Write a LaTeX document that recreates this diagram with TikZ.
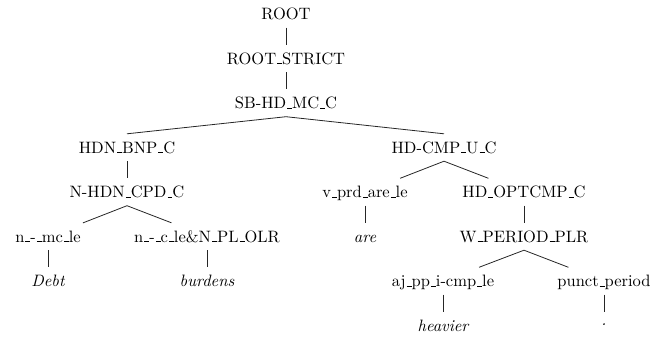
\documentclass[tikz,border=0pt]{standalone}
\usepackage{fontspec}
\setmainfont{lmroman10-regular.otf}[ItalicFont=lmroman10-italic.otf]
\newcommand\us{\leavevmode\kern.06em\vbox{\hrule height .8pt width .3em}}
\begin{document}
\begin{tikzpicture}[x=1pt,y=-1pt,
  tn/.style={font=\fontsize{16.5}{20}\selectfont, text height=11.5pt, text depth=0pt,
             inner xsep=2pt, inner ysep=7.75pt, anchor=center},
  lf/.style={tn, font=\fontsize{16.5}{20}\selectfont\itshape},
  edge/.style={line width=0.8pt, black!85}]
\useasboundingbox (0,0) rectangle (652,340);
\node[tn] (root) at (286,14) {ROOT};
\node[tn] (rs) at (286,58.5) {ROOT\us STRICT};
\node[tn] (sb) at (286,103) {SB-HD\us MC\us C};
\node[tn] (hdn) at (127,147.5) {HDN\us BNP\us C};
\node[tn] (hdc) at (444,147.5) {HD-CMP\us U\us C};
\node[tn] (nhdn) at (127,192) {N-HDN\us CPD\us C};
\node[tn] (vprd) at (365,192) {v\us prd\us are\us le};
\node[tn] (hdo) at (524,192) {HD\us OPTCMP\us C};
\node[tn] (nmc) at (48,236.5) {n\us -\us mc\us le};
\node[tn] (nc) at (207,236.5) {n\us -\us c\us le\&N\us PL\us OLR};
\node[lf] (are) at (365,236.5) {are};
\node[tn] (wp) at (524,236.5) {W\us PERIOD\us PLR};
\node[lf] (debt) at (48,281) {Debt};
\node[lf] (burd) at (207,281) {burdens};
\node[tn] (aj) at (443,281) {aj\us pp\us i-cmp\us le};
\node[tn] (pp) at (604,281) {punct\us period};
\node[lf] (heav) at (443,325.5) {heavier};
\node[lf] (dot) at (604,325.5) {\raisebox{6pt}{.}};
\draw[edge] (root.south) -- (rs);
\draw[edge] (rs.south) -- (sb);
\draw[edge] (sb.south) -- (hdn.north);
\draw[edge] (sb.south) -- (hdc.north);
\draw[edge] (hdn.south) -- (nhdn);
\draw[edge] (nhdn.south) -- (nmc);
\draw[edge] (nhdn.south) -- (nc);
\draw[edge] (nmc.south) -- (debt);
\draw[edge] (nc.south) -- (burd);
\draw[edge] (hdc.south) -- (vprd);
\draw[edge] (hdc.south) -- (hdo);
\draw[edge] (vprd.south) -- (are);
\draw[edge] (hdo.south) -- (wp);
\draw[edge] (wp.south) -- (aj);
\draw[edge] (wp.south) -- (pp);
\draw[edge] (aj.south) -- (heav);
\draw[edge] (pp.south) -- (dot);
\end{tikzpicture}
\end{document}
